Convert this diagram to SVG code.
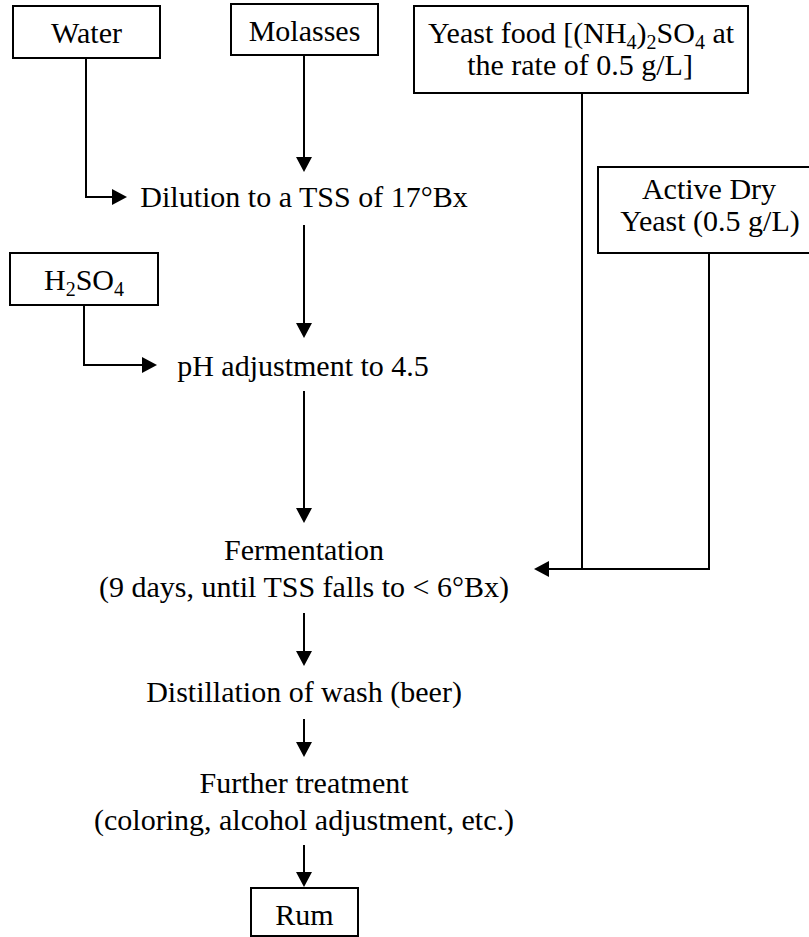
<svg xmlns="http://www.w3.org/2000/svg" width="809" height="937" viewBox="0 0 809 937">
<defs>
<style>
text{font-family:"Liberation Serif","Times New Roman",serif;font-size:30px;fill:#000;text-anchor:middle}
.sub{font-size:20px}
rect{fill:#fff;stroke:#000;stroke-width:2}
.c path{fill:none;stroke:#000;stroke-width:2}
</style>
<marker id="ah" markerWidth="16" markerHeight="16" refX="5" refY="8" orient="auto" markerUnits="userSpaceOnUse">
<path d="M0,0 L15,8 L0,16 z" fill="#000"/>
</marker>
</defs>
<rect x="0" y="0" width="809" height="937" style="stroke:none;fill:#fff"/>
<g class="c" id="connectors">
<path d="M86,58 V197 H117" marker-end="url(#ah)"/>
<path d="M304,55 V162" marker-end="url(#ah)"/>
<path d="M304,225 V328" marker-end="url(#ah)"/>
<path d="M84,305 V365 H147" marker-end="url(#ah)"/>
<path d="M304,391 V513" marker-end="url(#ah)"/>
<path d="M582,93 V569"/>
<path d="M709,253 V569 H544" marker-end="url(#ah)"/>
<path d="M304,613 V656" marker-end="url(#ah)"/>
<path d="M304,719 V747" marker-end="url(#ah)"/>
<path d="M304,845 V877" marker-end="url(#ah)"/>
</g>
<g id="water"><rect x="13" y="6" width="147" height="52"/><text x="86.5" y="43">Water</text></g>
<g id="molasses"><rect x="231" y="4" width="147" height="51"/><text x="304.5" y="41">Molasses</text></g>
<g id="yeastfood"><rect x="414" y="6" width="334" height="87"/>
<text x="581" y="43">Yeast food [(NH<tspan class="sub" dy="6">4</tspan><tspan dy="-6">)</tspan><tspan class="sub" dy="6">2</tspan><tspan dy="-6">SO</tspan><tspan class="sub" dy="6">4</tspan><tspan dy="-6"> at</tspan></text>
<text x="580" y="75">the rate of 0.5 g/L]</text></g>
<g id="activeyeast"><rect x="598" y="167" width="214" height="86"/>
<text x="709" y="199">Active Dry</text><text x="710" y="231">Yeast (0.5 g/L)</text></g>
<g id="dilution"><text x="304" y="207">Dilution to a TSS of 17°Bx</text></g>
<g id="h2so4"><rect x="10" y="253" width="148" height="52"/>
<text x="84" y="290">H<tspan class="sub" dy="6">2</tspan><tspan dy="-6">SO</tspan><tspan class="sub" dy="6">4</tspan></text></g>
<g id="ph"><text x="303" y="376">pH adjustment to 4.5</text></g>
<g id="fermentation"><text x="304" y="560">Fermentation</text><text x="304" y="597">(9 days, until TSS falls to &lt; 6°Bx)</text></g>
<g id="distillation"><text x="304" y="702">Distillation of wash (beer)</text></g>
<g id="further"><text x="304" y="793">Further treatment</text><text x="304" y="830">(coloring, alcohol adjustment, etc.)</text></g>
<g id="rum"><rect x="251" y="888" width="107" height="48"/><text x="304.5" y="925">Rum</text></g>
</svg>
